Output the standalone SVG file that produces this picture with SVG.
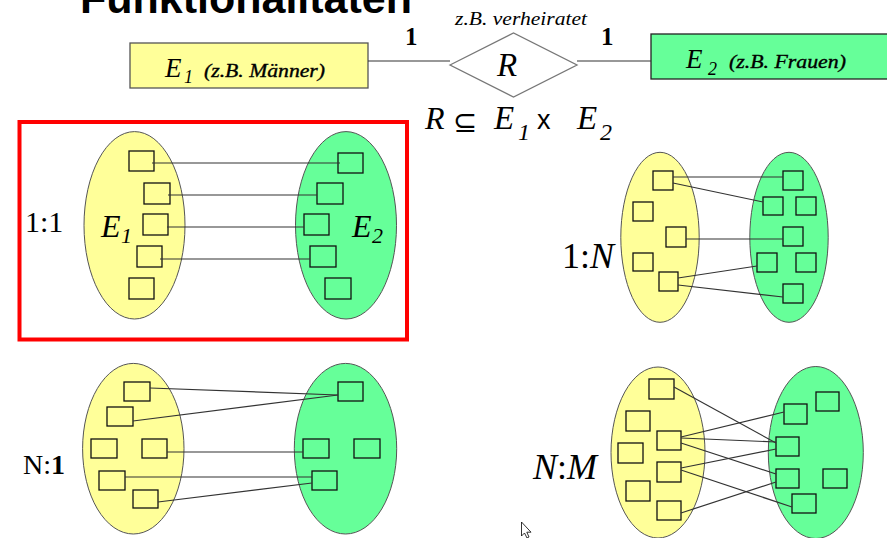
<svg xmlns="http://www.w3.org/2000/svg" width="887" height="538" viewBox="0 0 887 538">
<style>
.serif{font-family:"Liberation Serif","Times New Roman",serif;fill:#000}
.it{font-style:italic}
.semi{stroke:#000;stroke-width:0.35}
.sans{font-family:"Liberation Sans",Arial,sans-serif;fill:#000}
.ey{fill:#FFFF99;stroke:#555;stroke-width:1}
.eg{fill:#66FF99;stroke:#555;stroke-width:1}
.bx{fill:none;stroke:#111;stroke-width:1.3}
.ln{stroke:#333;stroke-width:1.2;fill:none}
</style>
<rect width="887" height="538" fill="#fff"/>
<text class="sans" x="80" y="13" font-size="43" font-weight="bold">Funktionalitäten</text>

<g id="entity-E1">
<rect x="130" y="43" width="238" height="45" fill="#FFFF99" stroke="#555" stroke-width="1.3"/>
<text class="serif it" x="165" y="77" font-size="27">E</text>
<text class="serif it" x="184" y="83" font-size="18">1</text>
<text class="serif it semi" x="204" y="77" font-size="19" textLength="121" lengthAdjust="spacingAndGlyphs">(z.B. Männer)</text>
</g>
<g id="relationship-R">
<polygon points="450,65 513.5,33 577,65 513.5,97" fill="#fff" stroke="#777" stroke-width="1.3"/>
<text class="serif it" x="497" y="76" font-size="33">R</text>
<text class="serif it" x="455" y="25" font-size="18" textLength="132" lengthAdjust="spacingAndGlyphs">z.B. verheiratet</text>
</g>
<g id="entity-E2">
<rect x="651" y="34" width="240" height="45" fill="#66FF99" stroke="#222" stroke-width="1.3"/>
<text class="serif it" x="686" y="68" font-size="27">E</text>
<text class="serif it" x="708" y="75" font-size="18">2</text>
<text class="serif it semi" x="729" y="68" font-size="19" textLength="117" lengthAdjust="spacingAndGlyphs">(z.B. Frauen)</text>
</g>
<g id="er-connectors">
<line class="ln" x1="368" y1="61" x2="450" y2="61" stroke="#444"/>
<line class="ln" x1="577" y1="61" x2="651" y2="61" stroke="#444"/>
<text class="serif" x="405" y="45" font-size="25" font-weight="bold">1</text>
<text class="serif" x="601" y="45" font-size="25" font-weight="bold">1</text>
</g>
<g id="formula">
<text class="serif it" x="425" y="129" font-size="32">R</text>
<text x="453" y="132" font-size="29" font-family="DejaVu Sans,sans-serif">⊆</text>
<text class="serif it" x="494" y="129" font-size="33">E</text>
<text class="serif it" x="518" y="140" font-size="24">1</text>
<text class="sans" x="537" y="129" font-size="27">x</text>
<text class="serif it" x="577" y="129" font-size="33">E</text>
<text class="serif it" x="600" y="140" font-size="24">2</text>
</g>

<g id="panel-1-1">
<rect x="19.5" y="122" width="387.5" height="217.5" fill="none" stroke="#FF0000" stroke-width="4"/>
<text class="serif" x="25" y="232" font-size="30">1:1</text>
<ellipse class="ey" cx="134.5" cy="225.3" rx="50.5" ry="93.7"/>
<ellipse class="eg" cx="346" cy="225.3" rx="50.5" ry="93.7"/>
<text class="serif it" x="101" y="237" font-size="32">E</text>
<text class="serif it" x="121" y="243" font-size="22">1</text>
<text class="serif it" x="352" y="237" font-size="32">E</text>
<text class="serif it" x="372" y="243" font-size="22">2</text>
<rect class="bx" x="129" y="151" width="25" height="20"/>
<rect class="bx" x="144" y="183" width="26" height="21"/>
<rect class="bx" x="143" y="214" width="25" height="21"/>
<rect class="bx" x="137" y="246" width="25" height="21"/>
<rect class="bx" x="129" y="278" width="25" height="21"/>
<rect class="bx" x="338" y="153" width="25" height="20"/>
<rect class="bx" x="317" y="183" width="26" height="21"/>
<rect class="bx" x="304" y="214" width="25" height="21"/>
<rect class="bx" x="310" y="246" width="26" height="21"/>
<rect class="bx" x="325" y="278" width="26" height="21"/>
<g class="ln">
<line x1="152" y1="163" x2="340" y2="163"/>
<line x1="168" y1="195" x2="317" y2="195"/>
<line x1="167" y1="227" x2="304" y2="227"/>
<line x1="160" y1="259" x2="310" y2="259"/>
</g>
</g>

<g id="panel-1-N">
<text class="serif" x="562" y="268" font-size="36">1:<tspan font-style="italic">N</tspan></text>
<ellipse class="ey" cx="660" cy="237.3" rx="39.2" ry="85"/>
<ellipse class="eg" cx="789" cy="237.3" rx="39.2" ry="85"/>
<rect class="bx" x="653" y="171" width="20" height="19"/>
<rect class="bx" x="633" y="202" width="20" height="19"/>
<rect class="bx" x="666" y="227" width="20" height="20"/>
<rect class="bx" x="633" y="253" width="20" height="18"/>
<rect class="bx" x="659" y="272" width="19" height="19"/>
<rect class="bx" x="783" y="171" width="20" height="19"/>
<rect class="bx" x="763" y="197" width="20" height="18"/>
<rect class="bx" x="796" y="197" width="20" height="18"/>
<rect class="bx" x="783" y="227" width="20" height="19"/>
<rect class="bx" x="757" y="253" width="20" height="19"/>
<rect class="bx" x="796" y="253" width="20" height="19"/>
<rect class="bx" x="783" y="284" width="20" height="19"/>
<g class="ln">
<line x1="673" y1="177" x2="783" y2="177"/>
<line x1="673" y1="183" x2="763" y2="202"/>
<line x1="686" y1="239" x2="783" y2="239"/>
<line x1="678" y1="278" x2="757" y2="266"/>
<line x1="678" y1="285" x2="783" y2="297"/>
</g>
</g>

<g id="panel-N-1">
<text class="serif" x="23" y="474" font-size="28">N:<tspan font-weight="bold">1</tspan></text>
<ellipse class="ey" cx="133.3" cy="448.7" rx="50.7" ry="85.3"/>
<ellipse class="eg" cx="345.5" cy="448.7" rx="51.2" ry="85.3"/>
<rect class="bx" x="124" y="382" width="26" height="19"/>
<rect class="bx" x="107" y="407" width="26" height="19"/>
<rect class="bx" x="91" y="439" width="26" height="19"/>
<rect class="bx" x="142" y="439" width="25" height="19"/>
<rect class="bx" x="99" y="471" width="26" height="19"/>
<rect class="bx" x="133" y="490" width="25" height="18"/>
<rect class="bx" x="338" y="382" width="25" height="19"/>
<rect class="bx" x="303" y="439" width="26" height="19"/>
<rect class="bx" x="354" y="439" width="26" height="19"/>
<rect class="bx" x="312" y="471" width="25" height="19"/>
<g class="ln">
<line x1="150" y1="388" x2="338" y2="395"/>
<line x1="133" y1="421" x2="338" y2="395"/>
<line x1="167" y1="452" x2="303" y2="452"/>
<line x1="125" y1="477" x2="312" y2="477"/>
<line x1="158" y1="502" x2="312" y2="483"/>
</g>
</g>

<g id="panel-N-M">
<text class="serif" x="533" y="479" font-size="36"><tspan font-style="italic">N</tspan>:<tspan font-style="italic">M</tspan></text>
<ellipse class="ey" cx="658" cy="452.5" rx="47" ry="85.5"/>
<ellipse class="eg" cx="815.8" cy="452.5" rx="47.5" ry="86"/>
<rect class="bx" x="649" y="379" width="25" height="20"/>
<rect class="bx" x="626" y="411" width="24" height="20"/>
<rect class="bx" x="657" y="431" width="24" height="19"/>
<rect class="bx" x="618" y="443" width="25" height="20"/>
<rect class="bx" x="657" y="462" width="24" height="20"/>
<rect class="bx" x="626" y="481" width="24" height="20"/>
<rect class="bx" x="657" y="501" width="24" height="19"/>
<rect class="bx" x="816" y="392" width="23" height="19"/>
<rect class="bx" x="784" y="404" width="23" height="20"/>
<rect class="bx" x="776" y="437" width="23" height="19"/>
<rect class="bx" x="776" y="469" width="23" height="19"/>
<rect class="bx" x="823" y="469" width="24" height="19"/>
<rect class="bx" x="792" y="494" width="24" height="19"/>
<g class="ln">
<line x1="674" y1="387" x2="776" y2="443"/>
<line x1="681" y1="437" x2="784" y2="412"/>
<line x1="681" y1="438" x2="776" y2="442"/>
<line x1="681" y1="443" x2="776" y2="474"/>
<line x1="681" y1="468" x2="776" y2="449"/>
<line x1="681" y1="470" x2="792" y2="507"/>
<line x1="681" y1="513" x2="776" y2="482"/>
</g>
</g>

<polygon points="521.5,522 521.5,536 524.5,533 527,538 529,537 526.8,532.2 531,532.2" fill="#fff" stroke="#000" stroke-width="0.8"/>
</svg>
